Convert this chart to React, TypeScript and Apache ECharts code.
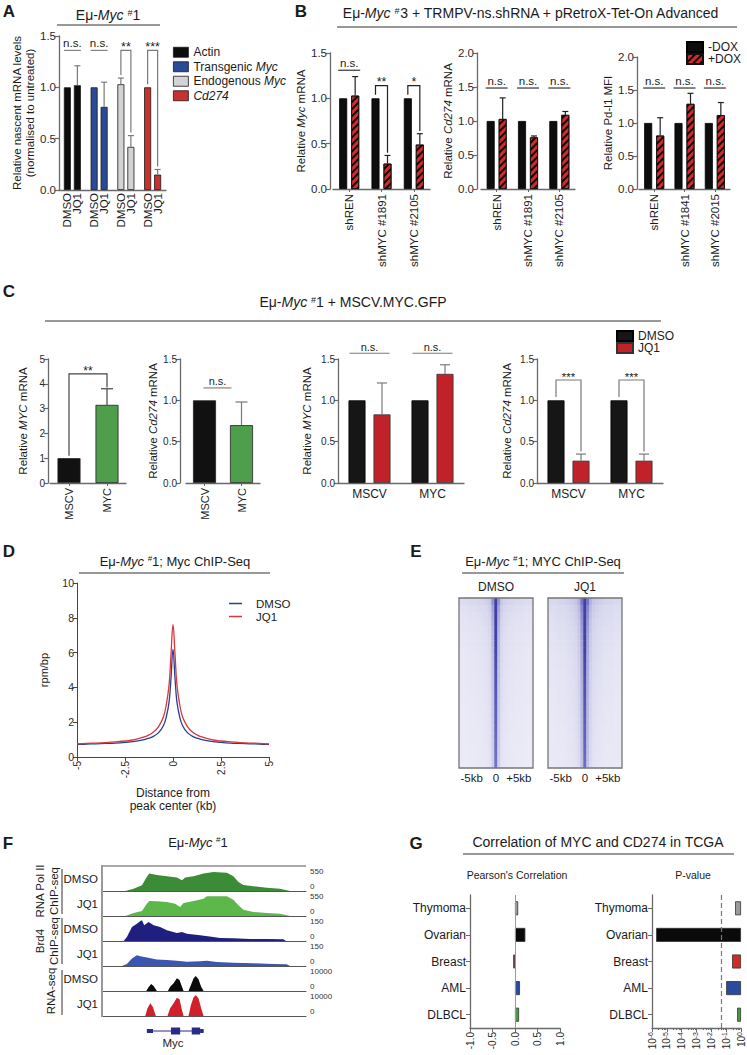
import React, { useEffect, useRef } from 'react';
import * as echarts from 'echarts';

// ---------------- DATA ----------------
// Panel A
const aGenes = ['Actin', 'Transgenic Myc', 'Endogenous Myc', 'Cd274'];
const aDMSO = [1.0, 1.0, 1.03, 1.0];
const aDMSOErr = [0, 0, 0.06, 0];
const aJQ1 = [1.02, 0.81, 0.42, 0.15];
const aJQ1Err = [0.19, 0.24, 0.11, 0.05];
const aSig = ['n.s.', 'n.s.', '**', '***'];

// Panel B
const b1Cats = ['shREN', 'shMYC #1891', 'shMYC #2105'];
const b1NoDox = [1, 1, 1];
const b1Dox = [1.03, 0.28, 0.49];
const b1DoxErr = [0.21, 0.09, 0.12];
const b1Sig = ['n.s.', '**', '*'];
const b2Cats = ['shREN', 'shMYC #1891', 'shMYC #2105'];
const b2NoDox = [1, 1, 1];
const b2Dox = [1.03, 0.76, 1.09];
const b2DoxErr = [0.31, 0.02, 0.05];
const b2Sig = ['n.s.', 'n.s.', 'n.s.'];
const b3Cats = ['shREN', 'shMYC #1841', 'shMYC #2015'];
const b3NoDox = [1, 1, 1];
const b3Dox = [0.81, 1.29, 1.12];
const b3DoxErr = [0.27, 0.16, 0.19];
const b3Sig = ['n.s.', 'n.s.', 'n.s.'];

// Panel C
const cCats = ['MSCV', 'MYC'];
const c1Vals = [1.0, 3.15];
const c1Err = [0, 0.65];
const c1Sig = '**';
const c2Vals = [1.0, 0.7];
const c2Err = [0, 0.28];
const c2Sig = 'n.s.';
const c3DMSO = [1.0, 1.0];
const c3JQ1 = [0.83, 1.32];
const c3JQ1Err = [0.38, 0.11];
const c3Sig = ['n.s.', 'n.s.'];
const c4DMSO = [1.0, 1.0];
const c4JQ1 = [0.27, 0.27];
const c4JQ1Err = [0.08, 0.08];
const c4Sig = ['***', '***'];

// Panel D
const dDist = [-5, -4.5, -4, -3.5, -3, -2.5, -2, -1.5, -1.25, -1, -0.75, -0.5, -0.35, -0.2, -0.1, 0, 0.1, 0.2, 0.35, 0.5, 0.75, 1, 1.25, 1.5, 2, 2.5, 3, 3.5, 4, 4.5, 5];
const dDMSO = [0.72, 0.74, 0.76, 0.78, 0.8, 0.84, 0.9, 1.0, 1.08, 1.2, 1.4, 1.8, 2.3, 3.2, 4.6, 6.2, 4.6, 3.2, 2.3, 1.8, 1.4, 1.2, 1.08, 1.0, 0.9, 0.84, 0.8, 0.78, 0.76, 0.74, 0.72];
const dJQ1 = [0.75, 0.78, 0.8, 0.83, 0.87, 0.92, 1.0, 1.15, 1.27, 1.45, 1.75, 2.3, 3.0, 4.2, 6.0, 7.6, 6.0, 4.2, 3.0, 2.3, 1.75, 1.45, 1.27, 1.15, 1.0, 0.92, 0.87, 0.83, 0.8, 0.78, 0.75];

// Panel E (heatmap: per-bin profile across -5..+5 kb, per-row intensity top->bottom)
const eBins = [-4.8, -4.4, -4.0, -3.6, -3.2, -2.8, -2.4, -2.0, -1.6, -1.2, -0.8, -0.4, 0, 0.4, 0.8, 1.2, 1.6, 2.0, 2.4, 2.8, 3.2, 3.6, 4.0, 4.4, 4.8];
const eRows = ['r1', 'r2', 'r3', 'r4', 'r5', 'r6', 'r7', 'r8', 'r9', 'r10', 'r11', 'r12', 'r13', 'r14', 'r15', 'r16', 'r17', 'r18', 'r19', 'r20', 'r21', 'r22', 'r23', 'r24'];
const eDmsoProfile = [0.08, 0.08, 0.08, 0.09, 0.09, 0.09, 0.1, 0.1, 0.11, 0.12, 0.15, 0.3, 1.0, 0.3, 0.15, 0.12, 0.11, 0.1, 0.1, 0.09, 0.09, 0.09, 0.08, 0.08, 0.08];
const eJq1Profile = [0.09, 0.09, 0.09, 0.1, 0.1, 0.1, 0.11, 0.12, 0.13, 0.15, 0.2, 0.38, 1.0, 0.38, 0.2, 0.15, 0.13, 0.12, 0.11, 0.1, 0.1, 0.1, 0.09, 0.09, 0.09];
const eDmsoRows = [1.9, 1.6, 1.45, 1.35, 1.28, 1.22, 1.18, 1.14, 1.1, 1.07, 1.04, 1.02, 1.0, 0.98, 0.96, 0.94, 0.92, 0.9, 0.88, 0.86, 0.84, 0.82, 0.8, 0.78];
const eJq1Rows = [2.0, 1.7, 1.55, 1.45, 1.38, 1.3, 1.25, 1.2, 1.16, 1.12, 1.09, 1.06, 1.04, 1.02, 1.0, 0.98, 0.96, 0.94, 0.92, 0.9, 0.88, 0.86, 0.84, 0.82];
const eLabels = ['-5kb', '0', '+5kb'];

// Panel F (relative locus position 0..100, signal)
const fPolDmso = [[11.4, 0], [15.5, 52], [19.6, 126], [22.0, 312], [23.2, 386], [26.9, 350], [31.8, 327], [36.7, 297], [39.2, 238], [40.8, 297], [44.9, 327], [49.8, 386], [54.6, 416], [61.2, 401], [64.4, 327], [66.9, 200], [69.3, 134], [74.2, 104], [80.8, 74], [87.3, 52], [90.5, 15], [92.2, 0]];
const fPolJq1 = [[11.4, 0], [15.5, 66], [19.6, 110], [22.0, 271], [23.2, 330], [26.9, 323], [31.8, 308], [35.9, 271], [38.3, 198], [40.0, 286], [44.9, 330], [49.8, 381], [51.4, 433], [61.2, 433], [64.4, 359], [66.9, 235], [69.3, 139], [74.2, 88], [80.8, 66], [87.3, 51], [90.5, 15], [92.2, 0]];
const fBrdDmso = [[10.6, 0], [12.2, 24], [14.7, 84], [17.1, 104], [18.8, 120], [19.6, 124], [20.7, 94], [22.8, 114], [25.3, 94], [28.5, 84], [31.8, 64], [36.7, 48], [39.2, 54], [41.6, 44], [48.1, 34], [54.6, 24], [57.9, 18], [64.4, 16], [72.6, 12], [80.8, 12], [88.9, 10], [90.2, 0]];
const fBrdJq1 = [[9.8, 0], [12.2, 12], [14.7, 45], [17.1, 65], [18.8, 59], [22.0, 51], [26.9, 39], [31.8, 36], [36.7, 32], [41.6, 26], [48.1, 28], [51.4, 32], [56.3, 24], [64.4, 20], [74.2, 16], [84.0, 12], [90.5, 10], [92.2, 0]];
const fRnaDmso = [[21.7, 0], [22.8, 1470], [24.1, 2800], [25.3, 2000], [26.9, 0], [32.3, 0], [33.4, 1730], [35.1, 3070], [36.7, 5070], [38.0, 4400], [39.2, 1730], [40.0, 0], [42.4, 0], [43.6, 2400], [44.9, 5070], [46.0, 6000], [47.3, 4670], [48.6, 1730], [49.8, 0]];
const fRnaJq1 = [[21.2, 0], [22.3, 3070], [23.7, 5070], [25.0, 3470], [26.4, 0], [32.1, 0], [33.4, 3070], [35.1, 5070], [36.7, 7330], [38.0, 6670], [39.2, 2400], [40.0, 0], [42.4, 0], [43.6, 4400], [44.9, 7470], [46.0, 8270], [47.3, 7070], [48.6, 3070], [49.8, 0]];
const fMax = [550, 550, 150, 150, 10000, 10000];
const fRowLabels = ['DMSO', 'JQ1', 'DMSO', 'JQ1', 'DMSO', 'JQ1'];
const mycExons = [[22.0, 25.0, 0], [33.8, 38.3, 1], [44.0, 48.1, 1], [48.1, 49.8, 0]];
const mycSpan = [[22.0, 0.5], [49.8, 0.5]];

// Panel G
const gCats = ['Thymoma', 'Ovarian', 'Breast', 'AML', 'DLBCL'];
const gPearson = [0.07, 0.23, -0.04, 0.11, 0.09];
const gPval = [0.4, 1.9e-6, 0.25, 0.1, 0.55];
const gPThreshold = 0.05;

// ---------------- STYLE ----------------
const FONT = '"Liberation Sans", Arial, Helvetica, sans-serif';
const INK = '#1b1b1b';
const AXC = '#6a6a6a';
const aColors = ['#0d0d0d', '#2b4a96', '#d3d3d3', '#c8312c'];
const gColors = ['#9a9a9a', '#0a0a0a', '#d02a26', '#2b4a9a', '#4a9a47'];
const fColors = ['#3c8c37', '#5db84a', '#1f1f80', '#3b55b3', '#0a0a0a', '#d0202a'];

const richIt = (fs: number) => ({
  i: { fontStyle: 'italic', fontSize: fs, fontFamily: FONT, color: INK },
  s: { fontSize: Math.round(fs * 0.62), fontFamily: FONT, color: INK, verticalAlign: 'top' },
});

function T(x: number, y: number, text: string, fs: number, extra: any = {}, el: any = {}) {
  return {
    type: 'text', x, y, silent: true, z: 100, ...el,
    style: { text, fontSize: fs, fontFamily: FONT, fill: INK, align: 'center', verticalAlign: 'middle', textAlign: 'center', textVerticalAlign: 'middle', rich: richIt(fs), ...extra },
  };
}
function L(x1: number, y1: number, x2: number, y2: number, stroke = '#333', lineWidth = 1.2) {
  return { type: 'line', silent: true, z: 100, shape: { x1, y1, x2, y2 }, style: { stroke, lineWidth } };
}

function valY(min: number, max: number, interval: number, fs: number, digits: number, name: string, nameGap: number, offset = 0) {
  return {
    type: 'value', min, max, interval, offset,
    axisLine: { show: true, onZero: false, lineStyle: { color: AXC, width: 1.3 } },
    axisTick: { show: true, length: 4, lineStyle: { color: AXC, width: 1.2 } },
    axisLabel: { fontSize: fs, color: '#2a2a2a', margin: 3, formatter: (v: number) => v.toFixed(digits) },
    splitLine: { show: false },
    name, nameLocation: 'middle', nameGap,
    nameTextStyle: { fontSize: 11.5, color: INK, lineHeight: 13, fontFamily: FONT, rich: richIt(11.5) },
  };
}
function catX(data: string[], label: any, tick = true) {
  return {
    type: 'category', data,
    axisLine: { show: true, onZero: false, lineStyle: { color: AXC, width: 1.3 } },
    axisTick: { show: tick, alignWithLabel: true, length: 3, lineStyle: { color: AXC } },
    axisLabel: { interval: 0, color: INK, ...label },
    splitLine: { show: false },
  };
}

function annSeries(gi: number, anns: any[], stroke: string) {
  return {
    type: 'custom', xAxisIndex: gi, yAxisIndex: gi, silent: true, z: 6,
    data: anns.map((a) => [a.catL ?? a.cat, a.kind === 'err' ? a.v : a.level]),
    renderItem: (params: any, api: any) => {
      const a = anns[params.dataIndex];
      if (a.kind === 'err') {
        const p0 = api.coord([a.cat, a.v]);
        const p1 = api.coord([a.cat, a.v + a.e]);
        const x = p0[0] + a.off;
        return {
          type: 'group', children: [
            { type: 'line', shape: { x1: x, y1: p0[1], x2: x, y2: p1[1] }, style: { stroke, lineWidth: 1.2 } },
            { type: 'line', shape: { x1: x - a.cap, y1: p1[1], x2: x + a.cap, y2: p1[1] }, style: { stroke, lineWidth: 1.2 } },
          ],
        };
      }
      const cl = a.catL ?? a.cat;
      const cr = a.catR ?? a.cat;
      const pL = api.coord([cl, a.level]);
      const pR = api.coord([cr, a.level]);
      const y = pL[1];
      const xL = pL[0] + a.offL;
      const xR = pR[0] + a.offR;
      const children: any[] = [];
      if (a.kind === 'ns') {
        children.push({ type: 'line', shape: { x1: xL, y1: y, x2: xR, y2: y }, style: { stroke, lineWidth: 1.1 } });
      } else {
        const yl = api.coord([cl, a.yL])[1];
        const yr = api.coord([cr, a.yR])[1];
        children.push({ type: 'polyline', shape: { points: [[xL, yl], [xL, y], [xR, y], [xR, yr]] }, style: { stroke, lineWidth: 1.2, fill: 'none' } });
      }
      children.push({
        type: 'text', x: (xL + xR) / 2, y: y - (a.gap ?? 1),
        style: { text: a.text, fontSize: a.fs ?? 11, fontFamily: FONT, fill: INK, align: 'center', verticalAlign: 'bottom', textAlign: 'center', textVerticalAlign: 'bottom' },
      });
      return { type: 'group', children };
    },
  };
}

const hatch = { symbol: 'rect', symbolSize: 1, dashArrayX: [1, 0], dashArrayY: [2, 2.5], rotation: -Math.PI / 4, color: 'rgba(0,0,0,0.92)' };

function buildOption() {
  const grid: any[] = [];
  const xAxis: any[] = [];
  const yAxis: any[] = [];
  const series: any[] = [];
  const legend: any[] = [];
  const add = (g: any, x: any, y: any) => {
    const i = grid.length;
    grid.push(g);
    xAxis.push({ ...x, gridIndex: i });
    yAxis.push({ ...y, gridIndex: i });
    return i;
  };
  const bar = (gi: number, name: string, data: any[], extra: any) => ({ type: 'bar', name, xAxisIndex: gi, yAxisIndex: gi, data, ...extra });

  // ---------- A ----------
  const gA = add({ left: 59, top: 36, width: 107, height: 154 }, catX(aGenes, { show: false }, false),
    valY(0, 1.5, 0.5, 11.5, 1, 'Relative nascent mRNA levels\n(normalised to untreated)', 22));
  const lblA = (t: string) => ({ show: true, position: 'bottom', distance: 3, rotate: 90, align: 'right', verticalAlign: 'middle', formatter: t, fontSize: 11.5, color: INK, fontFamily: FONT });
  series.push(bar(gA, 'A:DMSO', aDMSO.map((v, i) => ({ value: v, itemStyle: { color: aColors[i] } })), { barWidth: 7, barGap: '43%', itemStyle: { borderColor: '#1a1a1a', borderWidth: 0.8 }, label: lblA('DMSO') }));
  series.push(bar(gA, 'A:JQ1', aJQ1.map((v, i) => ({ value: v, itemStyle: { color: aColors[i] } })), { barWidth: 7, barGap: '43%', itemStyle: { borderColor: '#1a1a1a', borderWidth: 0.8 }, label: lblA('JQ1') }));
  aGenes.forEach((g, i) => series.push({ type: 'line', name: g, xAxisIndex: gA, yAxisIndex: gA, data: [], itemStyle: { color: aColors[i], borderColor: '#1a1a1a', borderWidth: 0.8 }, lineStyle: { color: aColors[i] } }));
  const annA: any[] = [];
  aGenes.forEach((_, i) => {
    if (aDMSOErr[i] > 0) annA.push({ kind: 'err', cat: i, off: -5, v: aDMSO[i], e: aDMSOErr[i], cap: 3 });
    if (aJQ1Err[i] > 0) annA.push({ kind: 'err', cat: i, off: 5, v: aJQ1[i], e: aJQ1Err[i], cap: 3 });
    if (aSig[i] === 'n.s.') annA.push({ kind: 'ns', cat: i, offL: -8.5, offR: 8.5, level: 1.36, text: aSig[i], fs: 11.5 });
    else annA.push({ kind: 'br', cat: i, offL: -5, offR: 5, level: 1.36, yL: aDMSO[i] + aDMSOErr[i] + 0.03, yR: aJQ1[i] + aJQ1Err[i] + 0.03, text: aSig[i], fs: 12.5, gap: -3 });
  });
  series.push(annSeries(gA, annA, '#7a7a7a'));
  legend.push({
    data: aGenes, left: 168, top: 40, orient: 'vertical', icon: 'rect', itemWidth: 15, itemHeight: 10, itemGap: 0,
    selectedMode: false, itemStyle: { borderColor: '#1a1a1a', borderWidth: 0.8 },
    textStyle: { fontSize: 12, lineHeight: 14.5, color: INK, fontFamily: FONT, rich: richIt(12) },
    formatter: (n: string) => (n === 'Cd274' ? '{i|Cd274}' : n.replace('Myc', '{i|Myc}')),
  });

  // ---------- B ----------
  const bPanels = [
    { g: { left: 333, top: 53, width: 97, height: 136 }, off: 3, max: 1.5, cats: b1Cats, no: b1NoDox, dox: b1Dox, err: b1DoxErr, sig: b1Sig, ns: 1.31, br: 1.14, name: 'Relative {i|Myc} mRNA', gap: 20 },
    { g: { left: 481, top: 53, width: 94, height: 136 }, off: 4, max: 2.0, cats: b2Cats, no: b2NoDox, dox: b2Dox, err: b2DoxErr, sig: b2Sig, ns: 1.485, br: 1.3, name: 'Relative {i|Cd274} mRNA', gap: 19 },
    { g: { left: 639, top: 57, width: 91, height: 132 }, off: 2, max: 2.0, cats: b3Cats, no: b3NoDox, dox: b3Dox, err: b3DoxErr, sig: b3Sig, ns: 1.53, br: 1.3, name: 'Relative Pd-l1 MFI', gap: 21 },
  ];
  bPanels.forEach((p) => {
    const gi = add(p.g, catX(p.cats, { rotate: 90, fontSize: 11.5, margin: 5 }), valY(0, p.max, 0.5, 11.5, 1, p.name, p.gap, p.off));
    series.push(bar(gi, '-DOX', p.no, { barWidth: 8, barGap: '50%', itemStyle: { color: '#0d0d0d', borderColor: '#000', borderWidth: 0.8 } }));
    series.push(bar(gi, '+DOX', p.dox, { barWidth: 8, barGap: '50%', itemStyle: { color: '#d22b2b', borderColor: '#111', borderWidth: 0.8, decal: hatch } }));
    const anns: any[] = [];
    p.cats.forEach((_, i) => {
      anns.push({ kind: 'err', cat: i, off: 6, v: p.dox[i], e: p.err[i], cap: 3 });
      if (p.sig[i] === 'n.s.') anns.push({ kind: 'ns', cat: i, offL: -11, offR: 11, level: p.ns, text: 'n.s.', fs: 11.5 });
      else anns.push({ kind: 'br', cat: i, offL: -6, offR: 6, level: p.br, yL: p.no[i] + 0.04, yR: p.dox[i] + p.err[i] + 0.03, text: p.sig[i], fs: 12.5, gap: -3 });
    });
    series.push(annSeries(gi, anns, '#222'));
  });
  legend.push({
    data: ['-DOX', '+DOX'], left: 681, top: 36, orient: 'vertical', icon: 'rect', itemWidth: 16, itemHeight: 10, itemGap: 0,
    selectedMode: false, textStyle: { fontSize: 12, lineHeight: 11, color: INK, fontFamily: FONT },
  });

  // ---------- C ----------
  const gC1 = add({ left: 50, top: 359, width: 76, height: 124 }, catX(cCats, { rotate: 90, fontSize: 11, margin: 5 }),
    valY(0, 5, 1, 10, 0, 'Relative {i|MYC} mRNA', 19, 2));
  series.push(bar(gC1, 'C1', c1Vals.map((v, i) => ({ value: v, itemStyle: { color: i ? '#4f9e4b' : '#111' } })), { barWidth: 23, itemStyle: { borderColor: '#222', borderWidth: 0.8 } }));
  series.push(annSeries(gC1, [
    { kind: 'err', cat: 1, off: 0, v: c1Vals[1], e: c1Err[1], cap: 6 },
    { kind: 'br', catL: 0, catR: 1, offL: 0, offR: 0, level: 4.4, yL: c1Vals[0] + 0.1, yR: c1Vals[1] + c1Err[1] + 0.05, text: c1Sig, fs: 12, gap: -3 },
  ], '#444'));

  const gC2 = add({ left: 186, top: 359, width: 74, height: 124 }, catX(cCats, { rotate: 90, fontSize: 11, margin: 5 }),
    valY(0, 1.5, 0.5, 10, 1, 'Relative {i|Cd274} mRNA', 20, 6));
  series.push(bar(gC2, 'C2', c2Vals.map((v, i) => ({ value: v, itemStyle: { color: i ? '#4f9e4b' : '#111' } })), { barWidth: 23, itemStyle: { borderColor: '#222', borderWidth: 0.8 } }));
  series.push(annSeries(gC2, [
    { kind: 'err', cat: 1, off: 0, v: c2Vals[1], e: c2Err[1], cap: 6 },
    { kind: 'ns', catL: 0, catR: 1, offL: -1, offR: -10, level: 1.15, text: c2Sig, fs: 11 },
  ], '#777'));

  const cGrouped = [
    { g: { left: 338, top: 359, width: 126, height: 124 }, dm: c3DMSO, jq: c3JQ1, err: c3JQ1Err, sig: c3Sig, name: 'Relative {i|MYC} mRNA', gap: 25 },
    { g: { left: 537, top: 359, width: 126, height: 124 }, dm: c4DMSO, jq: c4JQ1, err: c4JQ1Err, sig: c4Sig, name: 'Relative {i|Cd274} mRNA', gap: 24 },
  ];
  cGrouped.forEach((p) => {
    const gi = add(p.g, catX(cCats, { fontSize: 12, margin: 5 }, false), valY(0, 1.5, 0.5, 10, 1, p.name, p.gap));
    series.push(bar(gi, 'C:DMSO', p.dm, { barWidth: 17, barGap: '47%', itemStyle: { color: '#161616', borderColor: '#000', borderWidth: 0.8 } }));
    series.push(bar(gi, 'C:JQ1', p.jq, { barWidth: 17, barGap: '47%', itemStyle: { color: '#c1222a', borderColor: '#333', borderWidth: 0.8 } }));
    const anns: any[] = [];
    cCats.forEach((_, i) => {
      anns.push({ kind: 'err', cat: i, off: 12.5, v: p.jq[i], e: p.err[i], cap: 5 });
      if (p.sig[i] === 'n.s.') anns.push({ kind: 'ns', cat: i, offL: -20, offR: 20, level: 1.57, text: 'n.s.', fs: 11 });
      else anns.push({ kind: 'br', cat: i, offL: -12.5, offR: 12.5, level: 1.246, yL: p.dm[i] + 0.04, yR: p.jq[i] + p.err[i] + 0.03, text: p.sig[i], fs: 11.5, gap: -3 });
    });
    series.push(annSeries(gi, anns, '#7a7a7a'));
  });
  legend.push({
    data: ['C:DMSO', 'C:JQ1'], left: 611, top: 325, orient: 'vertical', icon: 'rect', itemWidth: 16, itemHeight: 10, itemGap: 0,
    selectedMode: false, formatter: (n: string) => n.slice(2), textStyle: { fontSize: 12, lineHeight: 11, color: INK, fontFamily: FONT },
  });

  // ---------- D ----------
  const gD = add({ left: 77, top: 583, width: 192, height: 174 },
    {
      type: 'value', min: -5, max: 5, interval: 2.5,
      axisLine: { show: true, onZero: false, lineStyle: { color: '#444', width: 1 } },
      axisTick: { show: true, length: 4, lineStyle: { color: '#444' } },
      axisLabel: { rotate: 90, fontSize: 10, color: '#2a2a2a', margin: 4, formatter: (v: number) => String(v) },
      splitLine: { show: false },
      name: 'Distance from\npeak center (kb)', nameLocation: 'middle', nameGap: 29,
      nameTextStyle: { fontSize: 12, lineHeight: 13, color: INK, fontFamily: FONT },
    },
    {
      type: 'value', min: 0, max: 10, interval: 2,
      axisLine: { show: true, onZero: false, lineStyle: { color: '#444', width: 1 } },
      axisTick: { show: true, length: 4, lineStyle: { color: '#444' } },
      axisLabel: { fontSize: 10.5, color: '#2a2a2a', margin: 3 },
      splitLine: { show: false },
      name: 'rpm/bp', nameLocation: 'middle', nameGap: 28,
      nameTextStyle: { fontSize: 11, color: INK, fontFamily: FONT },
    });
  series.push({ type: 'line', name: 'D:DMSO', xAxisIndex: gD, yAxisIndex: gD, data: dDist.map((x, i) => [x, dDMSO[i]]), smooth: 0.4, symbol: 'none', color: '#2b3f8f', lineStyle: { width: 1.3, color: '#2b3f8f' } });
  series.push({ type: 'line', name: 'D:JQ1', xAxisIndex: gD, yAxisIndex: gD, data: dDist.map((x, i) => [x, dJQ1[i]]), smooth: 0.4, symbol: 'none', color: '#d9363e', lineStyle: { width: 1.3, color: '#d9363e' } });
  legend.push({
    data: ['D:DMSO', 'D:JQ1'], left: 224, top: 592, orient: 'vertical', icon: 'rect', itemWidth: 13, itemHeight: 1.5, itemGap: 0,
    selectedMode: false, formatter: (n: string) => n.slice(2), textStyle: { fontSize: 11.5, lineHeight: 13, color: INK, fontFamily: FONT, padding: [0, 0, 0, 9] },
  });

  // ---------- E ----------
  const E1 = { left: 459, top: 598, width: 74, height: 170 };
  const E2 = { left: 548, top: 598, width: 74, height: 170 };
  const heatIdx: number[] = [];
  [[E1, eDmsoProfile, eDmsoRows], [E2, eJq1Profile, eJq1Rows]].forEach(([g, prof, rows]: any) => {
    const gi = add(g,
      {
        type: 'category', data: eBins.map(String),
        axisLine: { show: false }, axisTick: { show: false }, splitLine: { show: false },
        axisLabel: {
          interval: 0, fontSize: 11.5, color: INK, margin: 4, alignMinLabel: 'left', alignMaxLabel: 'right',
          formatter: (_v: string, idx: number) => (idx === 0 ? eLabels[0] : idx === 12 ? eLabels[1] : idx === 24 ? eLabels[2] : ''),
        },
      },
      { type: 'category', data: eRows, inverse: true, show: false });
    heatIdx.push(series.length);
    series.push({
      type: 'heatmap', xAxisIndex: gi, yAxisIndex: gi, emphasis: { disabled: true }, progressive: 0,
      data: (rows as number[]).flatMap((r, ri) => (prof as number[]).map((p, ci) => [ci, ri, +(p * r).toFixed(3)])),
    });
  });

  // ---------- F ----------
  const fData = [fPolDmso, fPolJq1, fBrdDmso, fBrdJq1, fRnaDmso, fRnaJq1];
  fData.forEach((d, k) => {
    const gi = add({ left: 102, top: 866 + 25 * k, width: 204, height: 25 },
      {
        type: 'value', min: 0, max: 100,
        axisLine: { show: true, onZero: false, lineStyle: { color: '#555', width: 1 } },
        axisTick: { show: false }, axisLabel: { show: false }, splitLine: { show: false },
      },
      {
        type: 'value', position: 'right', min: 0, max: fMax[k], interval: fMax[k],
        axisLine: { show: false }, axisTick: { show: false }, splitLine: { show: false },
        axisLabel: {
          margin: 4, color: '#333', fontSize: 8,
          formatter: (v: number) => (v === 0 ? '{b|0}' : '{t|' + v + '}'),
          rich: {
            t: { fontSize: 8, lineHeight: 9, fontFamily: FONT, color: '#333', padding: [11, 0, 0, 0] },
            b: { fontSize: 8, lineHeight: 9, fontFamily: FONT, color: '#333', padding: [0, 0, 9, 0] },
          },
        },
      });
    series.push({ type: 'line', xAxisIndex: gi, yAxisIndex: gi, data: d, symbol: 'none', silent: true, lineStyle: { width: 0 }, areaStyle: { color: fColors[k], opacity: 1 }, color: fColors[k] });
  });
  const gGene = add({ left: 102, top: 1026, width: 204, height: 10 },
    { type: 'value', min: 0, max: 100, show: false },
    { type: 'value', min: 0, max: 1, show: false });
  series.push({ type: 'line', xAxisIndex: gGene, yAxisIndex: gGene, data: mycSpan, symbol: 'none', silent: true, lineStyle: { width: 1, color: '#2a2a8a' } });
  series.push({
    type: 'custom', xAxisIndex: gGene, yAxisIndex: gGene, silent: true, data: mycExons,
    renderItem: (_p: any, api: any) => {
      const a = api.coord([api.value(0), 0.5]);
      const b = api.coord([api.value(1), 0.5]);
      const h = api.value(2) ? 7 : 4;
      return { type: 'rect', shape: { x: a[0], y: a[1] - h / 2, width: b[0] - a[0], height: h }, style: { fill: '#2a2a8a' } };
    },
  });

  // ---------- G ----------
  const gAxisY = {
    type: 'category', data: gCats, inverse: true,
    axisLine: { show: true, onZero: false, lineStyle: { color: AXC, width: 1.3 } },
    axisTick: { show: true, alignWithLabel: true, length: 4, lineStyle: { color: AXC } },
    axisLabel: { fontSize: 12, color: INK, margin: 4 },
  };
  const gG1 = add({ left: 470, top: 895, width: 90, height: 133 },
    {
      type: 'value', min: -1, max: 1, interval: 0.5,
      axisLine: { show: true, onZero: false, lineStyle: { color: AXC, width: 1.3 } },
      axisTick: { show: true, length: 4, lineStyle: { color: AXC } },
      axisLabel: { rotate: 90, fontSize: 10, color: '#2a2a2a', margin: 4, formatter: (v: number) => v.toFixed(1) },
      splitLine: { show: false },
    }, gAxisY);
  series.push(bar(gG1, 'G1', gPearson.map((v, i) => ({ value: v, itemStyle: { color: gColors[i] } })), {
    barWidth: 14, itemStyle: { borderColor: '#333', borderWidth: 0.8 },
    markLine: { silent: true, symbol: 'none', label: { show: false }, lineStyle: { color: '#999', type: 'solid', width: 1 }, data: [{ xAxis: 0 }] },
  }));
  const gG2 = add({ left: 652, top: 895, width: 89, height: 133 },
    {
      type: 'log', logBase: 10, min: 1e-6, max: 1,
      axisLine: { show: true, onZero: false, lineStyle: { color: AXC, width: 1.3 } },
      axisTick: { show: true, length: 4, lineStyle: { color: AXC } },
      minorTick: { show: true, splitNumber: 5, length: 2, lineStyle: { color: AXC } },
      axisLabel: {
        rotate: 90, color: '#2a2a2a', margin: 4, showMinLabel: true, showMaxLabel: true,
        formatter: (v: number) => '{b|10}{s|' + Math.round(Math.log10(v)) + '}',
        rich: { b: { fontSize: 10, fontFamily: FONT, color: '#2a2a2a' }, s: { fontSize: 7, fontFamily: FONT, color: '#2a2a2a', verticalAlign: 'top' } },
      },
      splitLine: { show: false },
    }, gAxisY);
  series.push(bar(gG2, 'G2', gPval.map((v, i) => ({ value: v, itemStyle: { color: gColors[i] } })), {
    barWidth: 14, itemStyle: { borderColor: '#333', borderWidth: 0.8 },
    markLine: { silent: true, symbol: 'none', label: { show: false }, lineStyle: { color: '#777', type: [5, 3], width: 1.2 }, data: [{ xAxis: gPThreshold }] },
  }));

  // ---------- GRAPHIC (letters, titles, rules) ----------
  const B = { fontWeight: 'bold' };
  const graphic: any[] = [
    T(9, 11, 'A', 17, B), T(301, 11, 'B', 17, B), T(9, 291, 'C', 17, B), T(9, 551, 'D', 17, B),
    T(416, 551, 'E', 17, B), T(8, 843, 'F', 17, B), T(416, 843, 'G', 17, B),
    T(108, 15, 'Eμ-{i|Myc} {s|#}1', 14), L(57, 25, 160, 25),
    T(531, 13, 'Eμ-{i|Myc} {s|#}3 + TRMPV-ns.shRNA + pRetroX-Tet-On Advanced', 14), L(337, 27, 737, 27),
    T(353, 302, 'Eμ-{i|Myc} {s|#}1 + MSCV.MYC.GFP', 14), L(45, 321, 661, 321),
    T(175, 561, 'Eμ-{i|Myc} {s|#}1; Myc ChIP-Seq', 13), L(79, 573, 270, 573),
    T(543, 561, 'Eμ-{i|Myc} {s|#}1; MYC ChIP-Seq', 13), L(462, 573, 624, 573),
    T(496, 587, 'DMSO', 12), T(585, 587, 'JQ1', 12),
    { type: 'rect', silent: true, z: 100, shape: { x: E1.left, y: E1.top, width: E1.width, height: E1.height }, style: { fill: 'none', stroke: '#777', lineWidth: 1.3 } },
    { type: 'rect', silent: true, z: 100, shape: { x: E2.left, y: E2.top, width: E2.width, height: E2.height }, style: { fill: 'none', stroke: '#777', lineWidth: 1.3 } },
    T(198, 842, 'Eμ-{i|Myc} {s|#}1', 13),
    L(102, 866, 306, 866, '#555', 1), L(102, 865, 102, 1017, '#999', 2),
    T(47, 891, 'RNA Pol II\nChIP-seq', 11.5, { lineHeight: 14 }, { rotation: Math.PI / 2 }), L(62, 869, 62, 914, '#333', 1),
    T(47, 941, 'Brd4\nChIP-seq', 11.5, { lineHeight: 14 }, { rotation: Math.PI / 2 }), L(62, 918, 62, 964, '#333', 1),
    T(51, 991, 'RNA-seq', 11.5, {}, { rotation: Math.PI / 2 }), L(62, 970, 62, 1015, '#333', 1),
    ...fRowLabels.map((t, k) => T(98, 878.5 + 25 * k, t, 11.5, { align: 'right', textAlign: 'right' })),
    T(173, 1043, 'Myc', 11.5),
    T(598, 842, 'Correlation of MYC and CD274 in TCGA', 14), L(463, 854, 734, 854),
    T(517, 875, "Pearson's Correlation", 10.5), T(693, 875, 'P-value', 10.5),
  ];

  return {
    animation: false,
    backgroundColor: '#ffffff',
    textStyle: { fontFamily: FONT },
    grid, xAxis, yAxis, series, legend, graphic,
    visualMap: [{
      type: 'continuous', show: false, min: 0, max: 1.2, seriesIndex: heatIdx,
      inRange: { color: ['#f6f6fc', '#c4c4e6', '#8e8ed0', '#6060bc', '#4040a8'] },
    }],
  };
}

export default function App() {
  const ref = useRef<HTMLDivElement>(null);
  useEffect(() => {
    const chart = echarts.init(ref.current as HTMLDivElement, undefined, { renderer: 'svg', width: 747, height: 1055 });
    chart.setOption(buildOption() as any);
    return () => chart.dispose();
  }, []);
  return <div ref={ref} style={{ position: 'absolute', left: 0, top: 0, width: 747, height: 1055, background: '#fff' }} />;
}
